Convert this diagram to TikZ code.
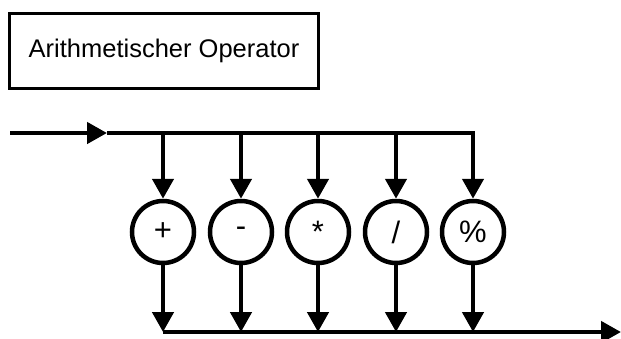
\documentclass[tikz,border=0pt]{standalone}
\usepackage{fontspec}
\setmainfont{Liberation Sans}
\usetikzlibrary{arrows.meta}
\begin{document}
\begin{tikzpicture}[x=1pt,y=-1pt,
  wire/.style={line width=4.5pt,line join=miter},
  arr/.style={wire,-{Triangle[length=20pt,width=21pt]}},
  titlebox/.style={draw,line width=3.5pt,minimum width=309pt,minimum height=75pt,inner sep=0pt,font=\fontsize{25.5}{30}\selectfont},
  opnode/.style={draw,circle,line width=4.5pt,minimum size=62pt,inner sep=0pt,font=\fontsize{31}{34}\selectfont}
]
\useasboundingbox (0,0) rectangle (621,338);
\node[titlebox] (title) at (164,51) {Arithmetischer Operator};
\coordinate (in) at (10,133);
\coordinate (mid) at (107,133);
\coordinate (out) at (621,332);
\node[opnode] (c1) at (163,232) {+};
\node[opnode] (c2) at (241,232) {-};
\node[opnode] (c3) at (318,232) {*};
\node[opnode] (c4) at (396,232) {/};
\node[opnode] (c5) at (473,232) {\%};
\foreach \i/\x in {1/163,2/241,3/318,4/396,5/473}{
  \coordinate (t\i) at (\x,133);
  \coordinate (b\i) at (\x,332);
}
\draw[arr] (in) -- (mid);
\draw[arr] (mid) -- (t5) -- (c5.north);
\foreach \i in {1,2,3,4}{
  \draw[arr] (t\i) -- (c\i.north);
}
\foreach \i in {1,...,5}{
  \draw[arr] (c\i.south) -- (b\i);
}
\draw[arr] (b1) -- (out);
\end{tikzpicture}
\end{document}
